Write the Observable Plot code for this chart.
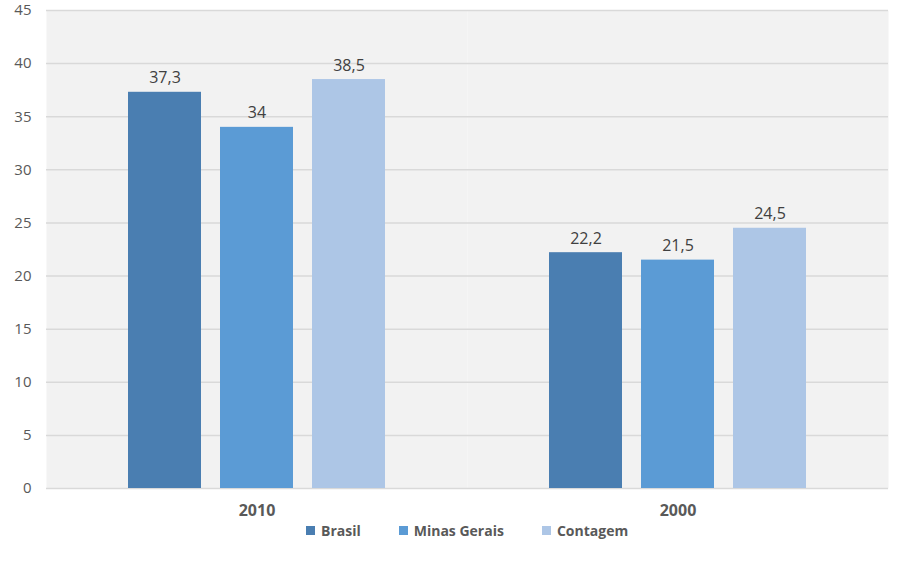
<!DOCTYPE html>
<html><head><meta charset="utf-8">
<script src="https://cdn.jsdelivr.net/npm/d3@7"></script>
<script src="https://cdn.jsdelivr.net/npm/@observablehq/plot@0.6"></script>
<style>
body{margin:0;background:#fff;font-family:"Open Sans","Noto Sans",sans-serif;}
#legend{display:flex;align-items:center;height:20px;padding-left:306px;font-size:14px;font-weight:bold;color:#595959;}
#legend .item{display:flex;align-items:center;margin-right:38px;}
#legend .sw{width:9px;height:9px;margin-right:6px;}
</style></head>
<body><div id="chart"></div><div id="legend"></div>
<script>
const years = ["2010", "2000"];
const series = ["Brasil", "Minas Gerais", "Contagem"];
const brasil = [37.3, 22.2];
const minas = [34, 21.5];
const contagem = [38.5, 24.5];
const colors = ["#4a7eb1", "#5b9bd5", "#adc6e6"];
const yTicks = [0, 5, 10, 15, 20, 25, 30, 35, 40, 45];

const seriesValues = [brasil, minas, contagem];
const data = [];
years.forEach((yr, i) => series.forEach((s, j) => data.push({year: yr, series: s, value: seriesValues[j][i]})));
const fmt = v => String(v).replace(".", ",");

const chart = Plot.plot({
  width: 900, height: 520,
  marginLeft: 45, marginRight: 12, marginTop: 10, marginBottom: 32,
  style: {fontFamily: '"Open Sans","Noto Sans",sans-serif', background: "transparent"},
  fx: {domain: years, padding: 0, label: null},
  x: {domain: series, paddingInner: 0.204, paddingOuter: 0.868, axis: null},
  y: {domain: [0, 45], axis: null},
  color: {domain: series, range: colors},
  marks: [
    Plot.frame({fill: "#f2f2f2", stroke: null}),
    Plot.gridY(yTicks, {stroke: "#d9d9d9", strokeOpacity: 1, strokeWidth: 1.5}),
    Plot.barY(data, {fx: "year", x: "series", y: "value", fill: "series"}),
    Plot.text(data, {fx: "year", x: "series", y: "value", text: d => fmt(d.value), lineAnchor: "bottom", dy: -9, fontSize: 16, fill: "#404040"}),
    Plot.axisY(yTicks, {tickSize: 0, tickPadding: 15, fontSize: 15, fill: "#595959", textAnchor: "end", label: null}),
    Plot.axisFx({anchor: "bottom", tickSize: 0, tickPadding: 16, fontSize: 16, fontWeight: "bold", fill: "#595959", label: null})
  ]
});
document.getElementById("chart").appendChild(chart);

const leg = document.getElementById("legend");
series.forEach((s, i) => {
  const it = document.createElement("div"); it.className = "item";
  const sw = document.createElement("div"); sw.className = "sw"; sw.style.background = colors[i];
  const t = document.createElement("span"); t.textContent = s;
  it.appendChild(sw); it.appendChild(t); leg.appendChild(it);
});
</script></body></html>
